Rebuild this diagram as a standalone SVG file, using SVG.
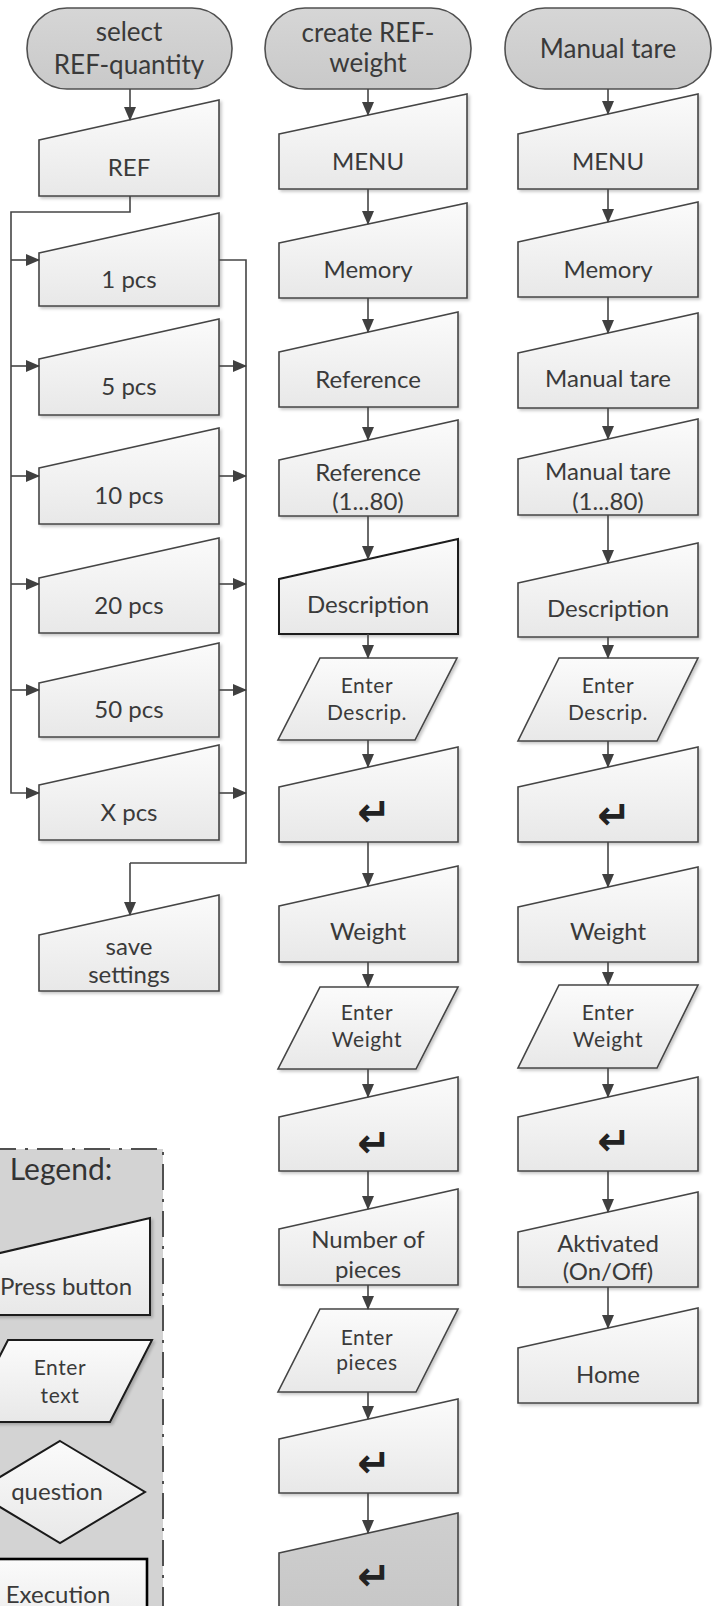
<svg xmlns="http://www.w3.org/2000/svg" width="712" height="1606" viewBox="0 0 712 1606">
<style>
.bx{fill:url(#gl);stroke:#454545;stroke-width:1.6;filter:url(#sh)}
.bxd{fill:url(#gl);stroke:#1a1a1a;stroke-width:2;filter:url(#sh)}
.gr{fill:url(#gg);stroke:#454545;stroke-width:1.6;filter:url(#sh)}
.tm{fill:url(#gt);stroke:#505050;stroke-width:1.6}
.t{font-family:Lato,"Liberation Sans",sans-serif;font-size:24px;fill:#3a3a3a;text-anchor:middle}
.tt{font-family:Lato,"Liberation Sans",sans-serif;font-size:26px;fill:#3a3a3a;text-anchor:middle}
.ts{font-family:Lato,"Liberation Sans",sans-serif;font-size:21px;fill:#3a3a3a;text-anchor:middle;letter-spacing:0.6px}
.rt{font-family:"DejaVu Sans",sans-serif;font-weight:bold;font-size:40px;fill:#222;text-anchor:middle}
.c{fill:none;stroke:#454545;stroke-width:1.6}
.ca{fill:none;stroke:#454545;stroke-width:1.6;marker-end:url(#ah)}
</style>
<defs>
<linearGradient id="gl" x1="0" y1="0" x2="0" y2="1"><stop offset="0" stop-color="#fbfbfb"/><stop offset="1" stop-color="#e8e8e8"/></linearGradient>
<linearGradient id="gt" x1="0" y1="0" x2="0" y2="1"><stop offset="0" stop-color="#d6d6d6"/><stop offset="1" stop-color="#c9c9c9"/></linearGradient>
<linearGradient id="gg" x1="0" y1="0" x2="0" y2="1"><stop offset="0" stop-color="#cfcfcf"/><stop offset="1" stop-color="#c4c4c4"/></linearGradient>
<filter id="sh" x="-10%" y="-10%" width="120%" height="120%"><feDropShadow dx="2" dy="2" stdDeviation="1.5" flood-color="#000" flood-opacity="0.22"/></filter>
<marker id="ah" markerUnits="userSpaceOnUse" markerWidth="14" markerHeight="12" refX="13" refY="6" orient="auto"><path d="M0,0 L14,6 L0,12 Z" fill="#404040"/></marker>
</defs>

<!-- Left column -->
<g id="term-select"><rect class="tm" x="27" y="8" width="205" height="81" rx="40" ry="40"/><text class="tt" x="129" y="41">select</text><text class="tt" x="129" y="74">REF-quantity</text></g>
<g id="ref"><path class="bx" d="M39,140 L219,100 L219,196 L39,196 Z"/><text class="t" x="129" y="176">REF</text></g>
<g id="p1"><path class="bx" d="M39,253 L219,213 L219,306 L39,306 Z"/><text class="t" x="129" y="288">1 pcs</text></g>
<g id="p5"><path class="bx" d="M39,359 L219,319 L219,415 L39,415 Z"/><text class="t" x="129" y="395">5 pcs</text></g>
<g id="p10"><path class="bx" d="M39,468 L219,428 L219,524 L39,524 Z"/><text class="t" x="129" y="504">10 pcs</text></g>
<g id="p20"><path class="bx" d="M39,578 L219,538 L219,633 L39,633 Z"/><text class="t" x="129" y="614">20 pcs</text></g>
<g id="p50"><path class="bx" d="M39,683 L219,643 L219,737 L39,737 Z"/><text class="t" x="129" y="718">50 pcs</text></g>
<g id="px"><path class="bx" d="M39,785 L219,745 L219,840 L39,840 Z"/><text class="t" x="129" y="821">X pcs</text></g>
<g id="save"><path class="bx" d="M39,935 L219,895 L219,991 L39,991 Z"/><text class="t" x="129" y="955">save</text><text class="t" x="129" y="983">settings</text></g>

<!-- Middle column -->
<g id="term-create"><rect class="tm" x="265" y="8" width="206" height="81" rx="40" ry="40"/><text class="tt" x="368" y="42">create REF-</text><text class="tt" x="368" y="72">weight</text></g>
<g id="m-menu"><path class="bx" d="M279,134 L467,94 L467,189 L279,189 Z"/><text class="t" x="368" y="170">MENU</text></g>
<g id="m-memory"><path class="bx" d="M279,243 L467,203 L467,298 L279,298 Z"/><text class="t" x="368" y="278">Memory</text></g>
<g id="m-reference"><path class="bx" d="M279,352 L458,312 L458,407 L279,407 Z"/><text class="t" x="368" y="388">Reference</text></g>
<g id="m-ref180"><path class="bx" d="M279,460 L458,420 L458,516 L279,516 Z"/><text class="t" x="368" y="481">Reference</text><text class="t" x="368" y="510">(1...80)</text></g>
<g id="m-desc"><path class="bxd" d="M279,579 L458,539 L458,634 L279,634 Z"/><text class="t" x="368" y="613">Description</text></g>
<g id="m-enterdesc"><path class="bx" d="M320,658 L457,658 L415,740 L278,740 Z"/><text class="ts" x="367" y="693">Enter</text><text class="ts" x="367" y="720">Descrip.</text></g>
<g id="m-ret1"><path class="bx" d="M279,787 L458,747 L458,842 L279,842 Z"/><text class="rt" x="374" y="826">↵</text></g>
<g id="m-weight"><path class="bx" d="M279,906 L458,866 L458,962 L279,962 Z"/><text class="t" x="368" y="940">Weight</text></g>
<g id="m-enterweight"><path class="bx" d="M320,987 L458,987 L416,1069 L278,1069 Z"/><text class="ts" x="367" y="1020">Enter</text><text class="ts" x="367" y="1047">Weight</text></g>
<g id="m-ret2"><path class="bx" d="M279,1117 L458,1077 L458,1171 L279,1171 Z"/><text class="rt" x="374" y="1157">↵</text></g>
<g id="m-number"><path class="bx" d="M279,1229 L458,1189 L458,1285 L279,1285 Z"/><text class="t" x="368" y="1248">Number of</text><text class="t" x="368" y="1278">pieces</text></g>
<g id="m-enterpieces"><path class="bx" d="M320,1309 L458,1309 L416,1392 L278,1392 Z"/><text class="ts" x="367" y="1345">Enter</text><text class="ts" x="367" y="1370">pieces</text></g>
<g id="m-ret3"><path class="bx" d="M279,1439 L458,1399 L458,1493 L279,1493 Z"/><text class="rt" x="374" y="1477">↵</text></g>
<g id="m-ret4"><path class="gr" d="M279,1553 L458,1513 L458,1650 L279,1650 Z"/><text class="rt" x="374" y="1590">↵</text></g>

<!-- Right column -->
<g id="term-tare"><rect class="tm" x="505" y="8" width="206" height="81" rx="40" ry="40"/><text class="tt" x="608" y="58">Manual tare</text></g>
<g id="r-menu"><path class="bx" d="M518,134 L698,94 L698,189 L518,189 Z"/><text class="t" x="608" y="170">MENU</text></g>
<g id="r-memory"><path class="bx" d="M518,242 L698,202 L698,297 L518,297 Z"/><text class="t" x="608" y="278">Memory</text></g>
<g id="r-mtare"><path class="bx" d="M518,353 L698,313 L698,408 L518,408 Z"/><text class="t" x="608" y="387">Manual tare</text></g>
<g id="r-mtare180"><path class="bx" d="M518,459 L698,419 L698,515 L518,515 Z"/><text class="t" x="608" y="480">Manual tare</text><text class="t" x="608" y="510">(1...80)</text></g>
<g id="r-desc"><path class="bx" d="M518,583 L698,543 L698,637 L518,637 Z"/><text class="t" x="608" y="617">Description</text></g>
<g id="r-enterdesc"><path class="bx" d="M559,658 L698,658 L657,741 L518,741 Z"/><text class="ts" x="608" y="693">Enter</text><text class="ts" x="608" y="720">Descrip.</text></g>
<g id="r-ret1"><path class="bx" d="M518,787 L698,747 L698,842 L518,842 Z"/><text class="rt" x="614" y="829">↵</text></g>
<g id="r-weight"><path class="bx" d="M518,907 L698,867 L698,962 L518,962 Z"/><text class="t" x="608" y="940">Weight</text></g>
<g id="r-enterweight"><path class="bx" d="M559,985 L698,985 L657,1068 L518,1068 Z"/><text class="ts" x="608" y="1020">Enter</text><text class="ts" x="608" y="1047">Weight</text></g>
<g id="r-ret2"><path class="bx" d="M518,1117 L698,1077 L698,1171 L518,1171 Z"/><text class="rt" x="614" y="1155">↵</text></g>
<g id="r-aktiv"><path class="bx" d="M518,1232 L698,1192 L698,1287 L518,1287 Z"/><text class="t" x="608" y="1252">Aktivated</text><text class="t" x="608" y="1280">(On/Off)</text></g>
<g id="r-home"><path class="bx" d="M518,1348 L698,1308 L698,1403 L518,1403 Z"/><text class="t" x="608" y="1383">Home</text></g>

<!-- Legend -->
<g id="legend">
<rect x="-10" y="1149" width="173" height="500" fill="#d3d3d3" stroke="#505050" stroke-width="2" stroke-dasharray="26 9 3 9"/>
<text x="61" y="1180" font-family="Lato,'Liberation Sans',sans-serif" font-size="30" fill="#333" text-anchor="middle">Legend:</text>
<g id="lg-press"><path class="bxd" d="M-30,1260 L150,1218 L150,1315 L-30,1315 Z"/><text class="t" x="66" y="1295" font-size="23">Press button</text></g>
<g id="lg-enter"><path class="bxd" d="M8,1340 L152,1340 L110,1422 L-34,1422 Z"/><text class="ts" x="60" y="1375">Enter</text><text class="ts" x="60" y="1403">text</text></g>
<g id="lg-question"><path d="M60,1441 L145,1492 L60,1543 L-25,1492 Z" fill="url(#gl)" stroke="#1a1a1a" stroke-width="2"/><text class="t" x="57" y="1500">question</text></g>
<g id="lg-exec"><rect x="-30" y="1559" width="177" height="80" fill="url(#gl)" stroke="#000" stroke-width="2.6"/><text class="t" x="58" y="1603">Execution</text></g>
</g>

<!-- Connectors -->
<g id="connectors">
<path class="ca" d="M130,89 V120"/>
<path class="ca" d="M130,196 V212 H11 V793 H39"/>
<path class="ca" d="M11,260 H39"/>
<path class="ca" d="M11,366 H39"/>
<path class="ca" d="M11,476 H39"/>
<path class="ca" d="M11,584 H39"/>
<path class="ca" d="M11,690 H39"/>
<path class="c" d="M219,260 H246 V863 H130"/>
<path class="ca" d="M130,863 V915"/>
<path class="ca" d="M219,366 H246"/>
<path class="ca" d="M219,476 H246"/>
<path class="ca" d="M219,584 H246"/>
<path class="ca" d="M219,690 H246"/>
<path class="ca" d="M219,793 H246"/>

<path class="ca" d="M368,89 V115"/>
<path class="ca" d="M368,189 V224"/>
<path class="ca" d="M368,298 V332"/>
<path class="ca" d="M368,407 V440"/>
<path class="ca" d="M368,516 V559"/>
<path class="ca" d="M368,634 V658"/>
<path class="ca" d="M368,740 V767"/>
<path class="ca" d="M368,842 V886"/>
<path class="ca" d="M368,962 V987"/>
<path class="ca" d="M368,1069 V1097"/>
<path class="ca" d="M368,1171 V1209"/>
<path class="ca" d="M368,1285 V1309"/>
<path class="ca" d="M368,1392 V1419"/>
<path class="ca" d="M368,1493 V1533"/>

<path class="ca" d="M608,89 V114"/>
<path class="ca" d="M608,189 V222"/>
<path class="ca" d="M608,297 V333"/>
<path class="ca" d="M608,408 V439"/>
<path class="ca" d="M608,515 V563"/>
<path class="ca" d="M608,637 V658"/>
<path class="ca" d="M608,741 V767"/>
<path class="ca" d="M608,842 V887"/>
<path class="ca" d="M608,962 V985"/>
<path class="ca" d="M608,1068 V1097"/>
<path class="ca" d="M608,1171 V1212"/>
<path class="ca" d="M608,1287 V1328"/>
</g>
</svg>
